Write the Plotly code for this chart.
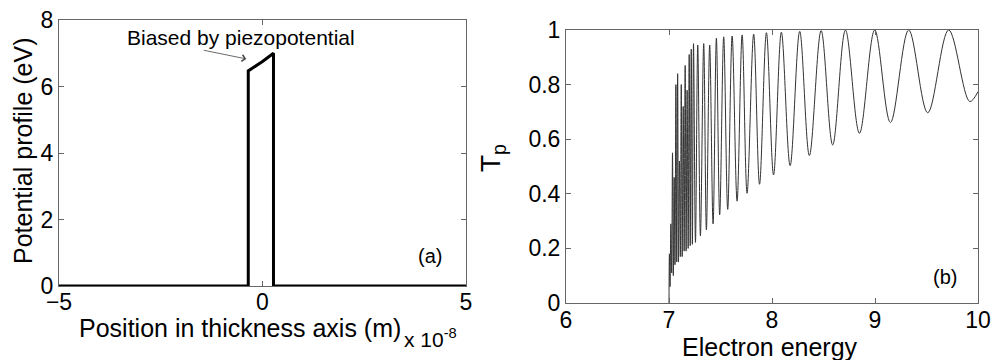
import plotly.graph_objects as go

# ---------------- Panel (a): potential profile ----------------
barrier_x = [-5, -0.35, -0.35, 0.0, 0.27, 0.27, 5]          # x 1e-8 m
barrier_v = [0, 0, 6.47, 6.75, 7.0, 0, 0]                   # eV

# ---------------- Panel (b): transmission (extrema) ----------------
start_energy = [7.0]
start_tp = [0.0]
peak_energy = [7.004, 7.018, 7.034, 7.050, 7.067, 7.084, 7.101, 7.119, 7.138, 7.157,
               7.176, 7.196, 7.216, 7.238,
               7.279, 7.337, 7.395, 7.460, 7.531, 7.613, 7.710, 7.822, 7.946,
               8.091, 8.269, 8.477, 8.713, 8.997, 9.327, 9.715]
peak_tp = [0.18, 0.29, 0.55, 0.46, 0.80, 0.84, 0.52, 0.80, 0.72, 0.87,
           0.78, 0.91, 0.93, 0.95,
           0.945, 0.95, 0.945, 0.97, 0.975, 0.978, 0.982, 0.985, 0.99,
           0.992, 0.995, 0.998, 1.0, 1.0, 1.0, 1.0]
valley_energy = [7.010, 7.026, 7.042, 7.058, 7.075, 7.092, 7.110, 7.128, 7.147, 7.166,
                 7.186, 7.206, 7.227,
                 7.257, 7.305, 7.363, 7.428, 7.492, 7.570, 7.661, 7.758, 7.879,
                 8.015, 8.176, 8.363, 8.589, 8.849, 9.150, 9.512, 9.920]
valley_tp = [0.06, 0.11, 0.10, 0.14, 0.15, 0.15, 0.17, 0.17, 0.19, 0.19,
             0.20, 0.21, 0.215,
             0.222, 0.246, 0.268, 0.29, 0.323, 0.343, 0.373, 0.402, 0.435,
             0.469, 0.503, 0.540, 0.579, 0.622, 0.661, 0.697, 0.738]
end_energy = [10.0]
end_tp = [0.774]

pts = sorted(zip(start_energy + peak_energy + valley_energy + end_energy,
                 start_tp + peak_tp + valley_tp + end_tp))
energy = [p[0] for p in pts]
tp = [p[1] for p in pts]

left_xticks = [-5, 0, 5]
left_yticks = [0, 2, 4, 6, 8]
right_xticks = [6, 7, 8, 9, 10]
right_yticks = [0, 0.2, 0.4, 0.6, 0.8, 1]
right_yticktext = ['0', '0.2', '0.4', '0.6', '0.8', '1']

W, H = 995, 360
FONT = 'Liberation Sans, Arial, sans-serif'

fig = go.Figure()
fig.add_trace(go.Scatter(x=barrier_x, y=barrier_v, mode='lines',
                         line=dict(color='black', width=3),
                         xaxis='x', yaxis='y', showlegend=False, hoverinfo='skip'))
fig.add_trace(go.Scatter(x=energy, y=tp, mode='lines',
                         line=dict(color='#333333', width=1.0, shape='spline', smoothing=1),
                         xaxis='x2', yaxis='y2', showlegend=False, hoverinfo='skip'))

axis_style = dict(showline=True, linecolor='#666', linewidth=1, mirror='allticks',
                  ticks='inside', ticklen=5, tickcolor='#666', showgrid=False,
                  zeroline=False, automargin=False,
                  tickfont=dict(family=FONT, size=23, color='black'))

def px(xp):
    return xp / W

def py(yp):
    return 1 - yp / H

fig.update_layout(
    template='none',
    width=W, height=H,
    margin=dict(l=0, r=0, t=0, b=0, pad=0),
    paper_bgcolor='white', plot_bgcolor='white',
    font=dict(family=FONT, color='black'),
    xaxis=dict(domain=[px(59), px(466)], range=[-5, 5], tickvals=left_xticks,
               anchor='y', ticklabelstandoff=-5, **axis_style),
    yaxis=dict(domain=[py(286), py(20)], range=[0, 8], tickvals=left_yticks,
               anchor='x', **axis_style),
    xaxis2=dict(domain=[px(566), px(978)], range=[6, 10], tickvals=right_xticks,
                anchor='y2', ticklabelstandoff=-4, **axis_style),
    yaxis2=dict(domain=[py(303), py(30)], range=[0, 1], tickvals=right_yticks,
                ticktext=right_yticktext, anchor='x2', **axis_style),
)

ann = []
ann.append(dict(text='Potential profile (eV)', textangle=-90, x=px(23), y=py(151),
                xref='paper', yref='paper', showarrow=False,
                font=dict(size=25, family=FONT), xanchor='center', yanchor='middle'))
ann.append(dict(text='Position in thickness axis (m)', x=px(240), y=py(328),
                xref='paper', yref='paper', showarrow=False,
                font=dict(size=25, family=FONT), xanchor='center', yanchor='middle'))
ann.append(dict(text='x 10<sup>-8</sup>', x=px(402), y=py(338),
                xref='paper', yref='paper', showarrow=False,
                font=dict(size=21, family=FONT), xanchor='left', yanchor='middle'))
ann.append(dict(text='(a)', x=px(430), y=py(256), xref='paper', yref='paper',
                showarrow=False, font=dict(size=20, family=FONT),
                xanchor='center', yanchor='middle'))
ann.append(dict(text='(b)', x=px(945), y=py(277), xref='paper', yref='paper',
                showarrow=False, font=dict(size=20, family=FONT),
                xanchor='center', yanchor='middle'))
ann.append(dict(text='T<sub>p</sub>', textangle=-90, x=px(492), y=py(158),
                xref='paper', yref='paper', showarrow=False,
                font=dict(size=28, family=FONT), xanchor='center', yanchor='middle'))
ann.append(dict(text='Electron energy', x=px(770), y=py(347),
                xref='paper', yref='paper', showarrow=False,
                font=dict(size=25, family=FONT), xanchor='center', yanchor='middle'))
ann.append(dict(text='Biased by piezopotential', x=-0.53, y=7.47, xref='x', yref='y',
                showarrow=False, font=dict(size=21, family=FONT),
                xanchor='center', yanchor='middle'))
ann.append(dict(text='', x=-0.40, y=6.83, ax=-1.48, ay=7.1, xref='x', yref='y',
                axref='x', ayref='y', showarrow=True, arrowhead=4, arrowsize=1.6,
                arrowwidth=0.8, arrowcolor='#444'))
fig.update_layout(annotations=ann)

fig.write_html('out.html')
